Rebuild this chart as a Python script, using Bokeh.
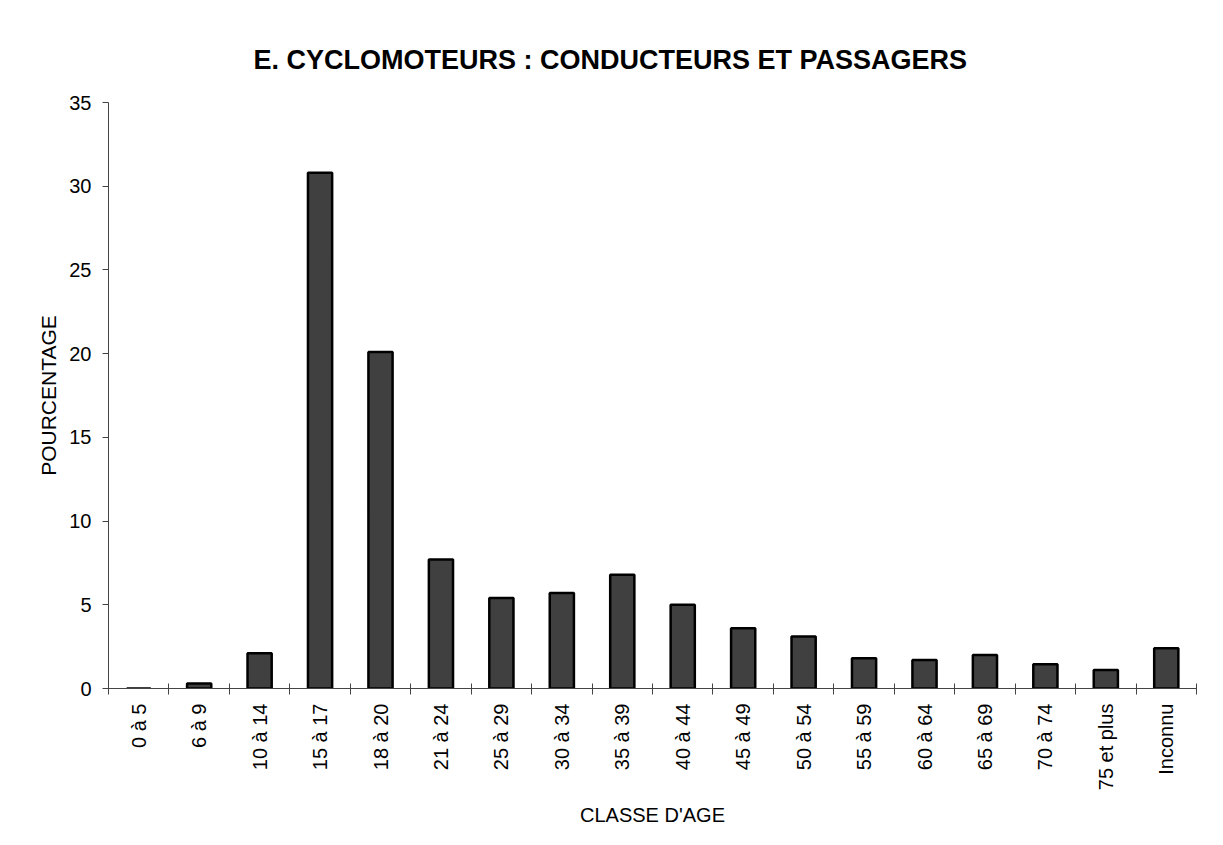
import math
from bokeh.plotting import figure
from bokeh.models import ColumnDataSource, FixedTicker, Range1d
from bokeh.embed import file_html
from bokeh.resources import INLINE

categories = ["0 à 5", "6 à 9", "10 à 14", "15 à 17", "18 à 20", "21 à 24", "25 à 29",
              "30 à 34", "35 à 39", "40 à 44", "45 à 49", "50 à 54", "55 à 59",
              "60 à 64", "65 à 69", "70 à 74", "75 et plus", "Inconnu"]
values = [0.0, 0.3, 2.1, 30.8, 20.1, 7.7, 5.4, 5.7, 6.8, 5.0, 3.6, 3.1, 1.8,
          1.7, 2.0, 1.45, 1.1, 2.4]
y_ticks = [0, 5, 10, 15, 20, 25, 30, 35]

title_text = "E. CYCLOMOTEURS : CONDUCTEURS ET PASSAGERS"
x_label = "CLASSE D'AGE"
y_label = "POURCENTAGE"

FONT = "Liberation Sans"

positions = list(range(len(categories)))
source = ColumnDataSource(data=dict(x=positions, top=values, cat=categories))

p = figure(width=1207, height=829, output_backend="svg", toolbar_location=None,
           x_range=Range1d(-0.5, len(categories) - 0.5), y_range=Range1d(0, 35),
           title=title_text,
           min_border_left=108, min_border_right=11, min_border_top=102,
           min_border_bottom=137)

p.vbar(x="x", top="top", width=0.40, source=source,
       fill_color="#404040", line_color="#000000", line_width=2.5)

# Title
p.title.text_font = FONT
p.title.text_font_size = "27px"
p.title.text_font_style = "bold"
p.title.text_color = "#000000"
p.title.align = "left"
p.title.offset = 145
p.title.standoff = 56

p.grid.visible = False
p.outline_line_color = None
p.background_fill_color = "white"
p.border_fill_color = "white"

# X axis
xa = p.xaxis[0]
xa.ticker = FixedTicker(ticks=positions, minor_ticks=[i - 0.5 for i in range(len(categories) + 1)])
xa.major_label_overrides = {i: c for i, c in enumerate(categories)}
xa.major_label_orientation = math.pi / 2
xa.major_tick_line_color = None
xa.major_tick_out = 6
xa.major_label_standoff = 9
xa.minor_tick_in = 5
xa.minor_tick_out = 6
xa.minor_tick_line_color = "#444444"
xa.axis_line_color = "#444444"
xa.axis_line_width = 1
xa.major_label_text_font = FONT
xa.major_label_text_font_size = "20px"
xa.major_label_text_color = "#000000"
xa.axis_label = x_label
xa.axis_label_text_font = FONT
xa.axis_label_text_font_size = "20px"
xa.axis_label_text_font_style = "normal"
xa.axis_label_text_color = "#000000"
xa.axis_label_standoff = 11

# Y axis
ya = p.yaxis[0]
ya.ticker = FixedTicker(ticks=y_ticks, minor_ticks=[])
ya.major_tick_in = 0
ya.major_tick_out = 6
ya.major_tick_line_color = "#444444"
ya.axis_line_color = "#444444"
ya.axis_line_width = 1
ya.major_label_standoff = 11
ya.major_label_text_font = FONT
ya.major_label_text_font_size = "20px"
ya.major_label_text_color = "#000000"
ya.axis_label = y_label
ya.axis_label_text_font = FONT
ya.axis_label_text_font_size = "21px"
ya.axis_label_text_font_style = "normal"
ya.axis_label_text_color = "#000000"
ya.axis_label_standoff = 6

open("out.html", "w").write(file_html(p, INLINE))
